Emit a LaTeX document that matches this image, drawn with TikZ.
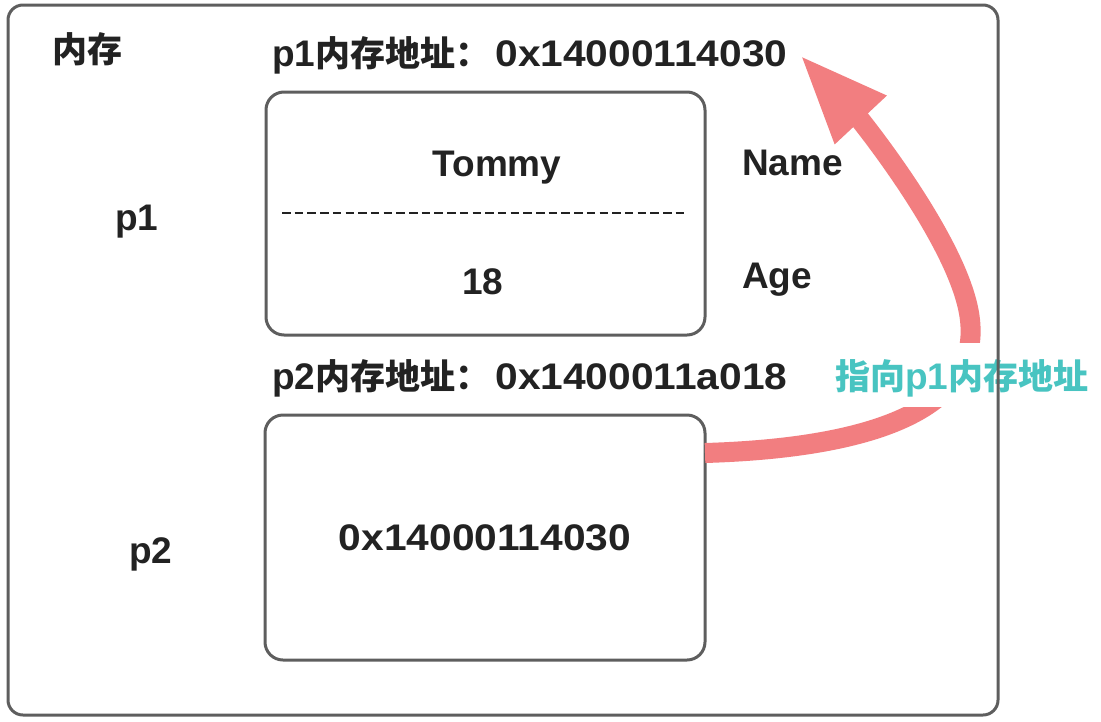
\documentclass[tikz,border=0pt]{standalone}
\usepackage{fontspec}
\setmainfont{Liberation Sans}
\newfontfamily\hexfont[FakeStretch=1.1]{Liberation Sans}
\newfontfamily\cjkfont{Noto Sans CJK SC}
\usetikzlibrary{arrows.meta}
\definecolor{ink}{HTML}{222222}
\definecolor{frame}{HTML}{5E5E5E}
\definecolor{pinkarrow}{HTML}{F27E80}
\definecolor{tealtext}{HTML}{48C4C1}
\newcommand\zhtext[1]{{\cjkfont\fontsize{35}{40}\selectfont #1}}
\newcommand\hexstr[1]{{\hexfont #1}}
\begin{document}
\begin{tikzpicture}[x=1pt,y=-1pt,
  txt/.style={font=\fontsize{37}{40}\selectfont\bfseries, text=ink, inner sep=0pt, anchor=base west},
  ctxt/.style={txt, anchor=base},
  card/.style={draw=frame, line width=3pt, rounded corners=18pt, inner sep=0pt, outer sep=0pt},
  sepline/.style={draw=ink, line width=2.5pt, dash pattern=on 8.5pt off 4.2pt},
  link/.style={draw=pinkarrow, line width=20pt, -{Triangle[length=89pt,width=65pt]}}]
\useasboundingbox (0,0) rectangle (1101,721);
\fill[white] (0,0) rectangle (1101,721);

% boxes
\node[card, minimum width=439pt, minimum height=243pt] (p1box) at (485.5,213.5) {};
\node[card, minimum width=440pt, minimum height=245pt] (p2box) at (485,537.5) {};

% texts
\node[txt] (memlabel) at (52,62) {\zhtext{内存}};
\node[txt] (p1addr) at (272,66) {p1\zhtext{内存地址：}\hspace{5pt}\hexstr{0x14000114030}};
\node[txt] (p1name) at (115,230) {p1};
\node[ctxt] (tommy) at (497,176) {Tommy};
\node[ctxt] (age18) at (483,294) {18};
\node[txt] (namelbl) at (742,175) {Name};
\node[txt] (agelbl) at (742,288) {Age};
\node[txt] (p2addr) at (272,389) {p2\zhtext{内存地址：}\hspace{5pt}\hexstr{0x1400011a018}};
\node[txt] (p2name) at (129,563) {p2};
\node[ctxt] (p2val) at (485,550) {\hexstr{0x14000114030}};

% separator
\coordinate (dashL) at (282,213);
\coordinate (dashR) at (688,213);
\draw[sepline] (dashL) -- (dashR);

% pointer arrow
\coordinate (tip) at (800,55);
\draw[link] ([yshift=84.5pt]p2box.east) .. controls (870,448) and (980,410) .. (970,320)
   .. controls (962,245) and (858,117) .. (tip);

% arrow label
\node[txt, text=tealtext, fill=white, text height=46pt, text depth=18pt, inner xsep=3pt] (hint) at (832,389) {\zhtext{指向}p1\zhtext{内存地址}};

% outer memory frame
\node[card, rounded corners=15pt, minimum width=990pt, minimum height=710pt] (memory) at (503,360) {};
\end{tikzpicture}
\end{document}
